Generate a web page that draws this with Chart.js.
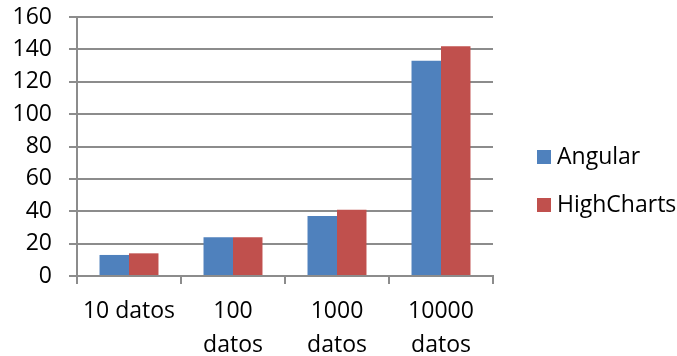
<!DOCTYPE html>
<html>
<head>
<meta charset="utf-8">
<script src="https://cdn.jsdelivr.net/npm/chart.js@4"></script>
<style>
  html, body { margin: 0; padding: 0; background: #fff; }
  #wrap { width: 677px; height: 356px; }
</style>
</head>
<body>
<div id="wrap"><canvas id="c" width="677" height="356"></canvas></div>
<script>
const categories = ["10 datos", ["100", "datos"], ["1000", "datos"], ["10000", "datos"]];
const angular = [13, 24, 37, 133];
const highcharts = [14, 24, 41, 142];
const seriesNames = ["Angular", "HighCharts"];
const yTicks = [0, 20, 40, 60, 80, 100, 120, 140, 160];

const FONT = "'Open Sans', 'Liberation Sans', sans-serif";
const FSIZE = 23;
const GRID = '#8c8c8c';

const legendPlugin = {
  id: 'sideLegend',
  afterDraw(chart) {
    const ctx = chart.ctx;
    ctx.save();
    ctx.font = FSIZE + 'px ' + FONT;
    ctx.textBaseline = 'middle';
    ctx.textAlign = 'left';
    chart.data.datasets.forEach((ds, i) => {
      const cy = 157 + i * 48;
      ctx.fillStyle = ds.backgroundColor;
      ctx.fillRect(537, cy - 7, 14, 14);
      ctx.fillStyle = '#000';
      ctx.fillText(ds.label, 557, cy);
    });
    ctx.restore();
  }
};

new Chart(document.getElementById('c'), {
  type: 'bar',
  data: {
    labels: categories,
    datasets: [
      { label: seriesNames[0], data: angular, backgroundColor: '#4F81BD' },
      { label: seriesNames[1], data: highcharts, backgroundColor: '#C0504D' }
    ]
  },
  options: {
    responsive: false,
    animation: false,
    devicePixelRatio: 1,
    layout: { padding: { top: 17, right: 184, left: 0, bottom: 0 } },
    plugins: { legend: { display: false }, tooltip: { enabled: false } },
    datasets: { bar: { categoryPercentage: 0.567, barPercentage: 1.0 } },
    scales: {
      x: {
        grid: { display: true, drawOnChartArea: false, drawTicks: true, tickLength: 8, color: GRID, lineWidth: 2, offset: true },
        border: { display: true, color: GRID, width: 2 },
        ticks: { color: '#000', font: { family: FONT, size: FSIZE, lineHeight: 34 / FSIZE }, padding: 10, maxRotation: 0, autoSkip: false },
        afterFit(scale) { scale.height = 80; scale.paddingLeft = 0; scale.paddingRight = 0; }
      },
      y: {
        min: 0, max: 160,
        afterBuildTicks(scale) { scale.ticks = yTicks.map(v => ({ value: v })); },
        grid: { color: GRID, lineWidth: 2, tickLength: 8, drawTicks: true },
        border: { display: true, color: GRID, width: 2 },
        ticks: { color: '#000', font: { family: FONT, size: FSIZE }, padding: 17 },
        afterFit(scale) { scale.width = 77; scale.paddingTop = 0; scale.paddingBottom = 0; }
      }
    }
  },
  plugins: [legendPlugin]
});
</script>
</body>
</html>
